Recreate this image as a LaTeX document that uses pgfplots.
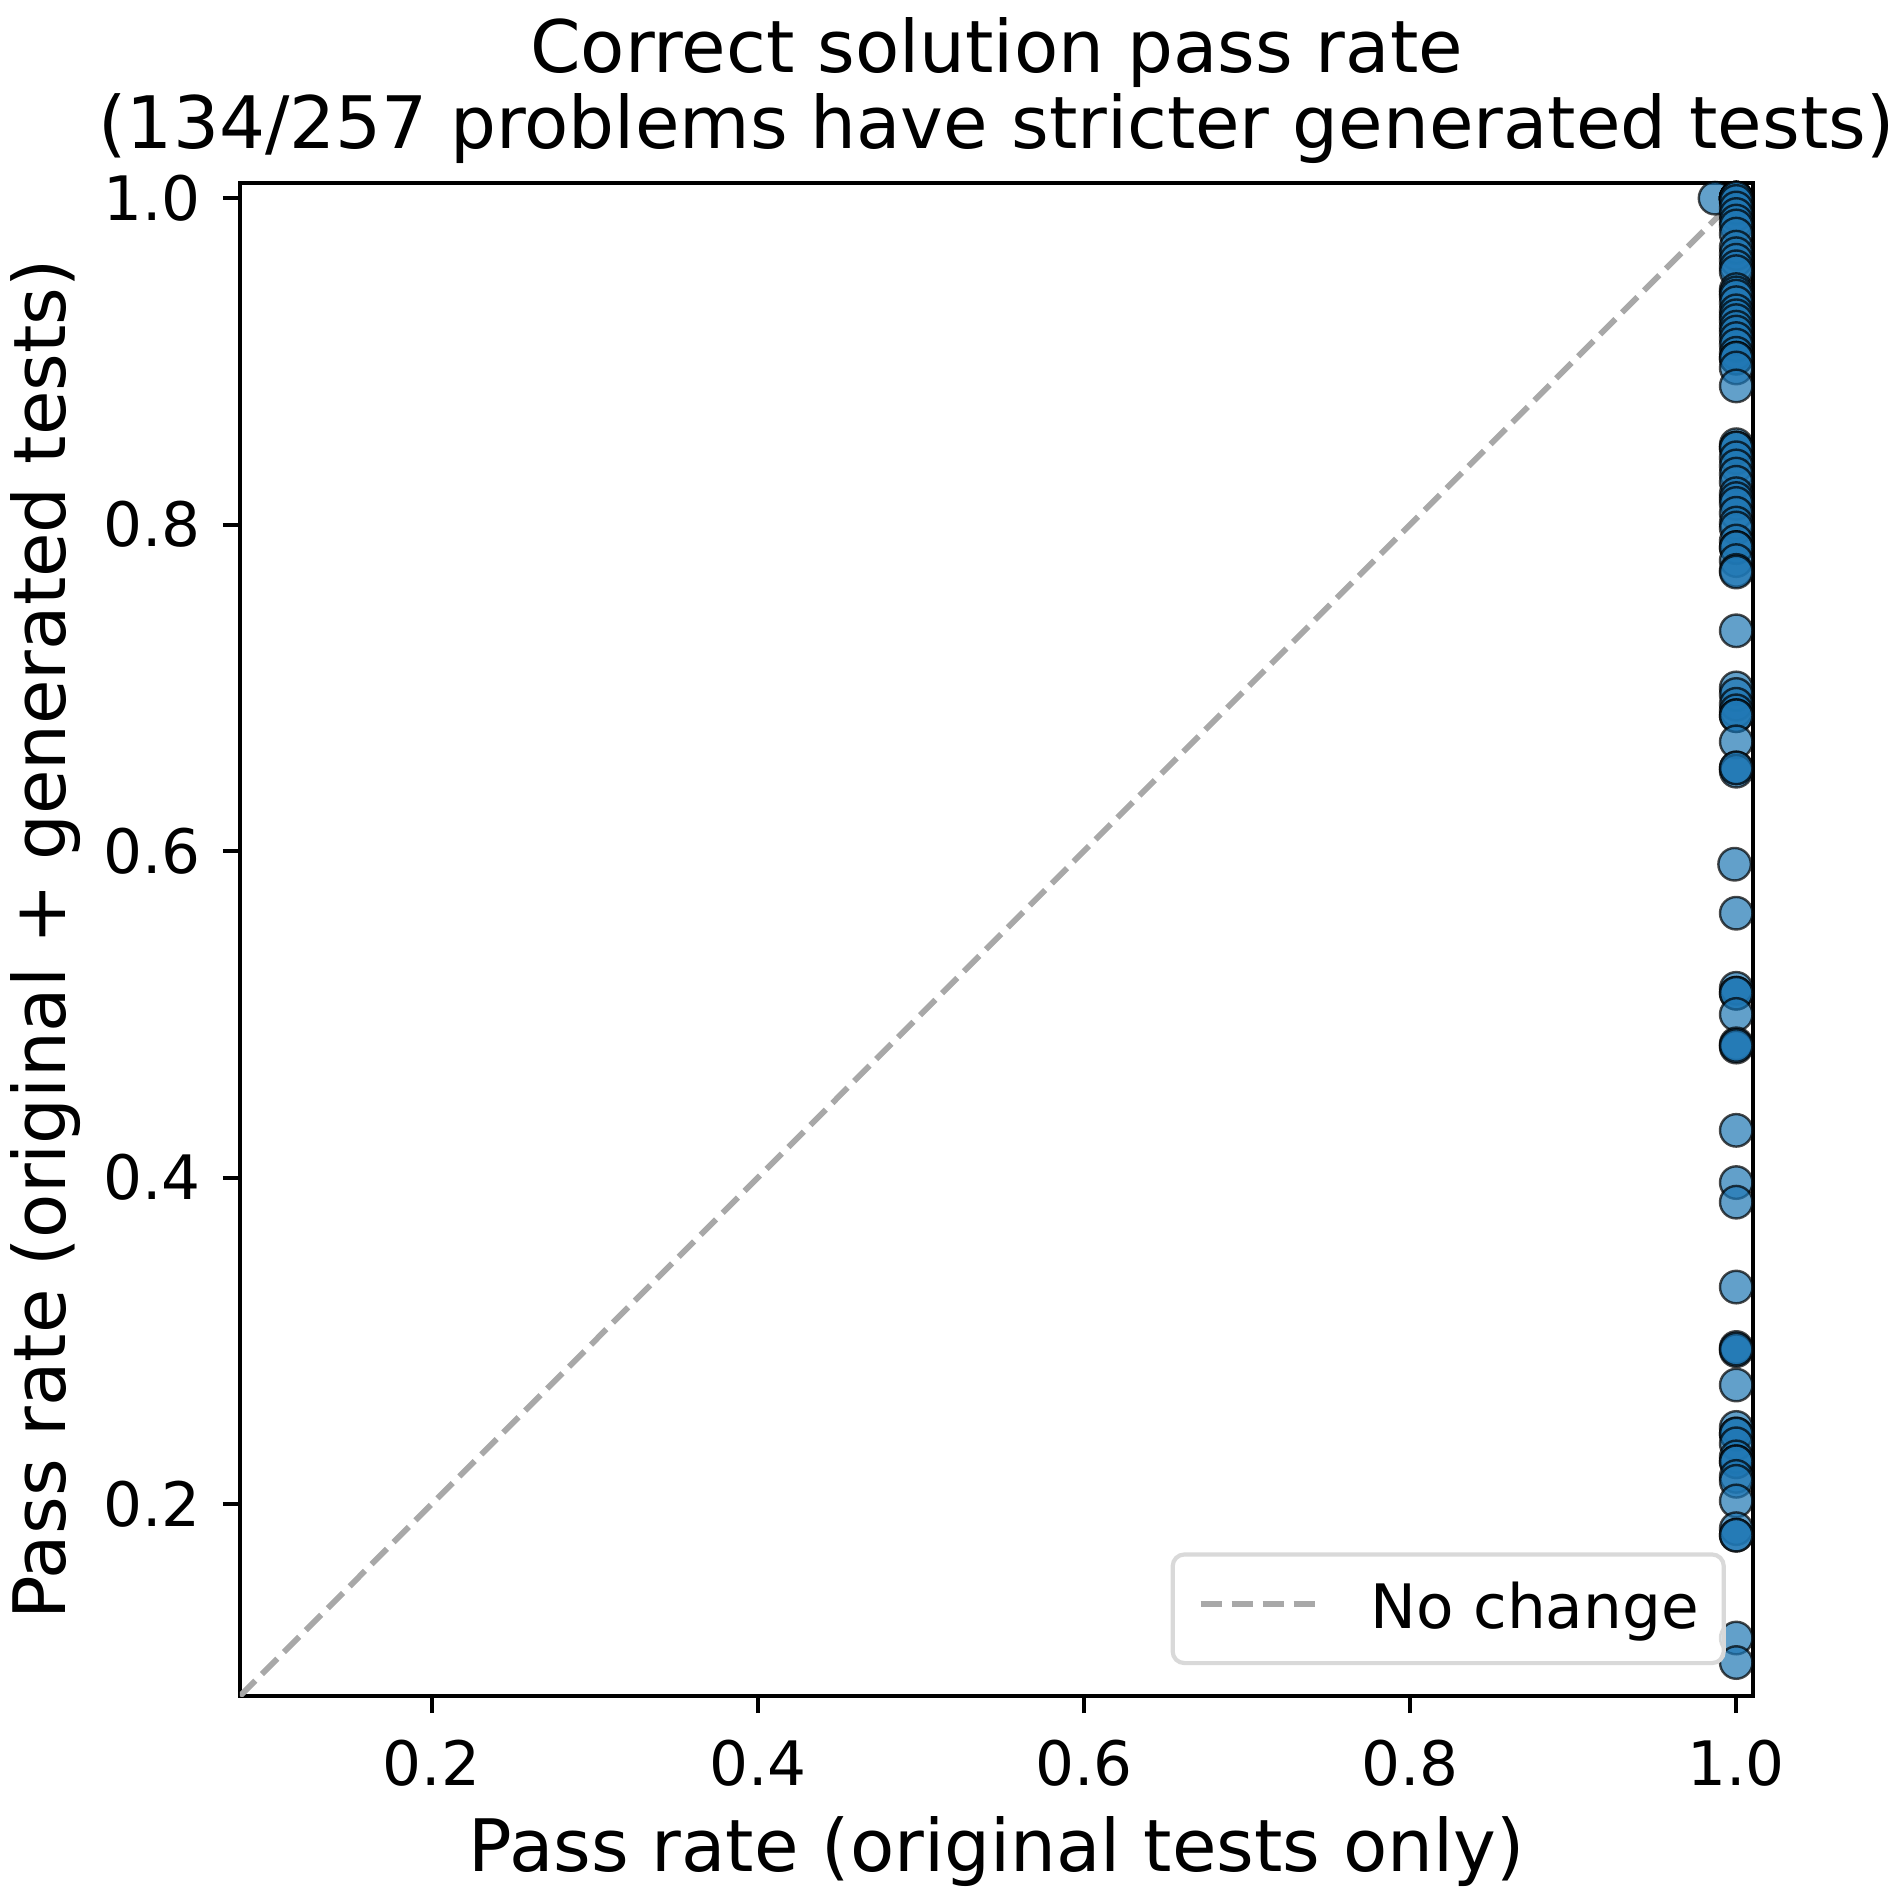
\documentclass[border=0pt]{standalone}
\usepackage{fontspec}
\setmainfont{DejaVu Sans}
\usepackage{pgfplots}
\pgfplotsset{compat=1.18}

\definecolor{c0}{HTML}{1F77B4}
\definecolor{diag}{HTML}{A8A8A8}
\definecolor{legframe}{HTML}{D9D9D9}

\newcommand{\labelfont}{\fontsize{17.37bp}{21bp}\selectfont}
\newcommand{\tickfont}{\fontsize{14.7bp}{17bp}\selectfont}

\begin{document}
\begin{tikzpicture}
% 1 px of the 1898 px image = 0.24bp
\useasboundingbox (-57.6bp,-48.48bp) rectangle (397.92bp,407.04bp);
\begin{axis}[
    scale only axis,
    width=363.2bp, height=363.2bp,
    xmin=0.0825, xmax=1.0105,
    ymin=0.0825, ymax=1.0095,
    axis line style={line width=0.94bp},
    tick align=outside,
    xtick pos=bottom, ytick pos=left,
    major tick length=4.1bp,
    every tick/.style={black, line width=0.94bp},
    xtick={0.2,0.4,0.6,0.8,1.0},
    xticklabels={0.2,0.4,0.6,0.8,1.0},
    ytick={0.2,0.4,0.6,0.8,1.0},
    yticklabels={0.2,0.4,0.6,0.8,1.0},
    xticklabel style={font=\tickfont, anchor=base, inner sep=0pt, yshift=-17.3bp},
    yticklabel style={font=\tickfont, anchor=east, inner sep=0pt, xshift=-5.1bp},
    title={Correct solution pass rate},
    title style={at={(rel axis cs:0.5,1)}, anchor=base, yshift=20.4bp,
        font=\labelfont, inner sep=0pt},
    extra description/.code={
        \node[font=\labelfont, anchor=base, inner sep=0pt, yshift=8.2bp]
            at (axis description cs:0.5,1) {(134/257 problems have stricter generated tests)};
    },
    xlabel={Pass rate (original tests only)},
    xlabel style={at={(rel axis cs:0.5,0)}, anchor=base, yshift=-42.2bp,
        font=\labelfont, inner sep=0pt},
    ylabel={Pass rate (original + generated tests)},
    ylabel style={at={(rel axis cs:0,0.5)}, rotate=0, anchor=base, yshift=41.8bp,
        font=\labelfont, inner sep=0pt},
    legend style={at={(rel axis cs:1,0)}, anchor=south east, xshift=-6.6bp, yshift=7.4bp,
        draw=legframe, line width=1bp, rounded corners=2.8bp,
        fill=white, fill opacity=0.8, text opacity=1,
        inner xsep=6bp, inner ysep=6.7bp,
        nodes={inner sep=0pt},
        column sep=10.8bp,
        font=\tickfont},
    legend image code/.code={\draw[#1] (0bp,1.2bp) -- (29.3bp,1.2bp);},
]
\addplot[diag, line width=1.4bp, dash pattern=on 5.2bp off 2.25bp]
    coordinates {(0.0825,0.0825) (1.0105,1.0105)};
\addlegendentry{No change}

\addplot[only marks, mark=*, mark size=3.9bp, forget plot,
    mark options={fill=c0, fill opacity=0.7, draw=black, draw opacity=0.7, line width=0.58bp}]
    coordinates {
    (0.987,1.000)
    (1,1.000) (1,1.000) (1,1.000) (1,1.000) (1,1.000) (1,1.000)
    (1,1.000) (1,1.000) (1,1.000) (1,1.000)
    (1,0.998) (1,0.994) (1,0.990) (1,0.986) (1,0.983) (1,0.978)
    (1,0.970) (1,0.966) (1,0.962) (1,0.958) (1,0.955) (1,0.944)
    (1,0.942) (1,0.940) (1,0.936) (1,0.931) (1,0.928) (1,0.925)
    (1,0.921) (1,0.918) (1,0.914) (1,0.910)
    (1,0.905) (1,0.902) (1,0.902) (1,0.896) (1,0.885)
    (1,0.849) (1,0.847) (1,0.847) (1,0.841) (1,0.836) (1,0.831)
    (1,0.826) (1,0.819) (1,0.816) (1,0.813) (1,0.807) (1,0.801)
    (1,0.798) (1,0.790) (1,0.786) (1,0.786) (1,0.778) (1,0.772)
    (1,0.771) (1,0.735)
    (1,0.700) (1,0.696) (1,0.690) (1,0.686) (1,0.683) (1,0.683)
    (1,0.667) (1,0.651) (1,0.649) (1,0.651) (0.999,0.592) (1,0.562)
    (1,0.516) (1,0.513) (1,0.513) (1,0.500) (1,0.482) (1,0.480)
    (1,0.481) (1,0.429) (1,0.397) (1,0.385) (1,0.333)
    (1,0.296) (1,0.294) (1,0.295) (1,0.273)
    (1,0.247) (1,0.243) (1,0.243) (1,0.237) (1,0.229) (1,0.226)
    (1,0.226) (1,0.217) (1,0.214) (1,0.202) (1,0.185) (1,0.181)
    (1,0.181) (1,0.118) (1,0.103)
    };
\end{axis}
\end{tikzpicture}
\end{document}
